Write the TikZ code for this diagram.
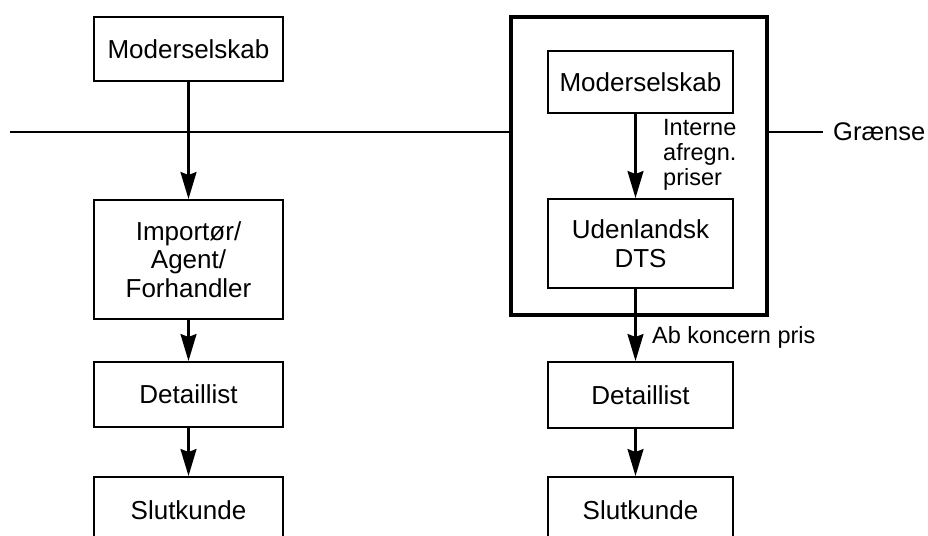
\documentclass[tikz,border=0pt]{standalone}
\usepackage{fontspec}
\setmainfont{Liberation Sans}
\usetikzlibrary{arrows.meta}
\begin{document}
\begin{tikzpicture}[x=1pt,y=-1pt,
  box/.style={draw, line width=2pt, rectangle, inner sep=0pt, align=center,
    font=\fontsize{26}{28.5}\selectfont},
  frame/.style={draw, line width=4.5pt, rectangle, inner sep=0pt},
  arr/.style={line width=2.2pt, -{Stealth[length=27pt,width=16pt,inset=3pt]}},
  border/.style={line width=2.5pt},
  lbl/.style={font=\fontsize{23.5}{25}\selectfont, align=left, inner sep=0pt}]
\useasboundingbox (0,0) rectangle (928,535);
\clip (0,0) rectangle (928,535);
% left column
\node[box, minimum width=189pt, minimum height=64pt] (m1) at (188.5,49) {Moderselskab};
\node[box, minimum width=189pt, minimum height=119pt] (imp) at (188.5,259.5) {Importør/\\Agent/\\Forhandler};
\node[box, minimum width=189pt, minimum height=65pt] (d1) at (188.5,394.5) {Detaillist};
\node[box, minimum width=189pt, minimum height=66pt] (s1) at (188.5,510) {Slutkunde};
% right column
\node[frame, minimum width=256pt, minimum height=298pt] (fr) at (639,166) {};
\node[box, minimum width=185pt, minimum height=62pt] (m2) at (640.5,82) {Moderselskab};
\node[box, minimum width=185pt, minimum height=89pt] (uds) at (640.5,243.5) {Udenlandsk\\DTS};
\node[box, minimum width=185pt, minimum height=66pt] (d2) at (640.5,395) {Detaillist};
\node[box, minimum width=185pt, minimum height=66pt] (s2) at (640.5,510) {Slutkunde};
% border line
\coordinate (gl) at (10,132);
\coordinate (gr) at (823,132);
\draw[border] (gl) -- (gl -| fr.west);
\draw[border] (gl -| fr.east) -- (gr);
\node[anchor=west, inner sep=0pt, font=\fontsize{25.5}{27}\selectfont] (gtxt) at (833,132) {Grænse};
% arrows left
\draw[arr] (m1) -- (imp);
\draw[arr] (imp) -- (d1);
\draw[arr] (d1) -- (s1);
% arrows right
\draw[arr] ([xshift=-5pt]m2.south) -- ([xshift=-5pt]uds.north);
\draw[arr] ([xshift=-5pt]uds.south) -- ([xshift=-5pt]d2.north);
\draw[arr] ([xshift=-5pt]d2.south) -- ([xshift=-5pt]s2.north);
% labels
\node[lbl, anchor=west] (ia) at (663,155) {Interne\\afregn.\\priser};
\node[lbl, anchor=west] (ak) at (652,337) {Ab koncern pris};
\end{tikzpicture}
\end{document}
